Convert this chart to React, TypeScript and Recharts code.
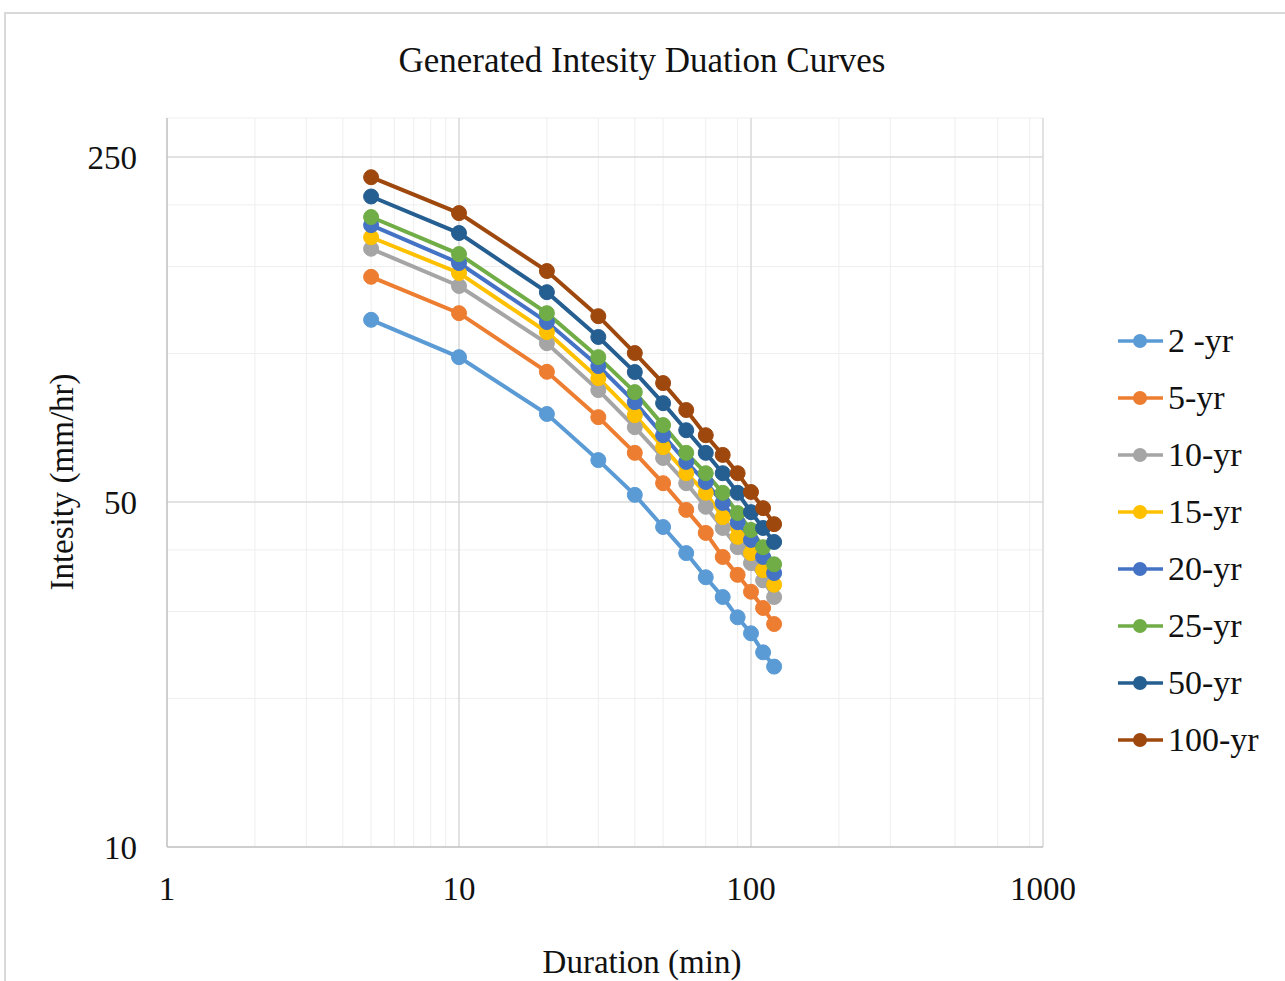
import React from 'react';
import { LineChart, Line, XAxis, YAxis, CartesianGrid } from 'recharts';

const durations = [5, 10, 20, 30, 40, 50, 60, 70, 80, 90, 100, 110, 120];

const seriesNames = ['2 -yr', '5-yr', '10-yr', '15-yr', '20-yr', '25-yr', '50-yr', '100-yr'];
const seriesKeys = ['y2', 'y5', 'y10', 'y15', 'y20', 'y25', 'y50', 'y100'];
const seriesColors = ['#5B9BD5', '#ED7D31', '#A5A5A5', '#FFC000', '#4472C4', '#70AD47', '#255E91', '#9E480E'];

const yr2 = [117, 98.3, 75.4, 60.8, 51.7, 44.5, 39.4, 35.2, 32.1, 29.2, 27.1, 24.8, 23.2];
const yr5 = [143, 120.7, 91.8, 74.3, 62.9, 54.6, 48.2, 43.3, 38.7, 35.6, 32.9, 30.5, 28.3];
const yr10 = [163, 137, 104.9, 84.3, 70.9, 61.4, 54.6, 48.9, 44.3, 40.5, 37.6, 34.7, 32.1];
const yr15 = [172, 145.6, 110.5, 89.1, 75.0, 64.6, 57.2, 52.2, 46.6, 42.5, 39.4, 36.4, 34.0];
const yr20 = [182, 152.5, 115.8, 94.3, 79.7, 68.3, 60.3, 54.9, 49.8, 45.5, 41.9, 38.7, 35.9];
const yr25 = [189, 159, 120.7, 98.3, 83.5, 71.6, 62.9, 57.2, 52.2, 47.5, 43.9, 40.5, 37.4];
const yr50 = [208, 175.4, 133.1, 108, 91.7, 79.3, 69.9, 62.9, 57.2, 52.2, 47.7, 44.3, 41.5];
const yr100 = [227.6, 192.5, 146.9, 119, 100.2, 87.1, 76.8, 68.3, 62.3, 57.2, 52.4, 48.6, 45.1];

const seriesValues = [yr2, yr5, yr10, yr15, yr20, yr25, yr50, yr100];

const xTicks = [1, 10, 100, 1000];
const yTicks = [10, 50, 250];
const xMinorGrid = [2, 3, 4, 5, 6, 7, 8, 9, 20, 30, 40, 50, 60, 70, 80, 90, 200, 300, 400, 500, 600, 700, 800, 900];
const yMinorGrid = [20, 30, 40, 100, 150, 200, 300];
const xMajorGrid = [10, 100, 1000];
const yMajorGrid = [50, 250];

const chartTitle = 'Generated Intesity Duation Curves';
const xTitle = 'Duration (min)';
const yTitle = 'Intesity (mm/hr)';

const data = durations.map((d, i) => {
  const row: Record<string, number> = { d };
  seriesKeys.forEach((k, s) => {
    row[k] = seriesValues[s][i];
  });
  return row;
});

const FONT = '"Liberation Serif", "Times New Roman", serif';
const TEXT = '#111111';

export default function App() {
  return (
    <div
      style={{
        position: 'absolute',
        left: 0,
        top: 0,
        width: 1285,
        height: 981,
        background: '#ffffff',
        overflow: 'hidden',
        fontFamily: FONT,
      }}
    >
      <div
        style={{
          position: 'absolute',
          left: 4,
          top: 12,
          width: 1290,
          height: 990,
          borderLeft: '2px solid #D9D9D9',
          borderTop: '2px solid #D9D9D9',
        }}
      />
      <div style={{ position: 'absolute', left: 0, top: 0 }}>
        <LineChart
          width={1285}
          height={981}
          data={data}
          margin={{ top: 118, right: 242, bottom: 74, left: 67 }}
        >
          <CartesianGrid
            stroke="#EEEEEE"
            strokeWidth={1}
            horizontalValues={yMinorGrid}
            verticalValues={xMinorGrid}
          />
          <CartesianGrid
            stroke="#D9D9D9"
            strokeWidth={1.5}
            horizontalValues={yMajorGrid}
            verticalValues={xMajorGrid}
          />
          <XAxis
            dataKey="d"
            type="number"
            scale="log"
            domain={[1, 1000]}
            ticks={xTicks}
            allowDataOverflow
            height={60}
            tickLine={false}
            tickSize={0}
            tickMargin={30}
            axisLine={{ stroke: '#BFBFBF', strokeWidth: 1.5 }}
            tick={{ fill: TEXT, fontSize: 33, fontFamily: FONT }}
          />
          <YAxis
            type="number"
            scale="log"
            domain={[10, 300]}
            ticks={yTicks}
            allowDataOverflow
            width={100}
            tickLine={false}
            tickSize={0}
            tickMargin={30}
            axisLine={{ stroke: '#BFBFBF', strokeWidth: 1.5 }}
            tick={{ fill: TEXT, fontSize: 33, fontFamily: FONT }}
          />
          {seriesKeys.map((k, s) => (
            <Line
              key={k}
              dataKey={k}
              name={seriesNames[s]}
              type="linear"
              stroke={seriesColors[s]}
              strokeWidth={4}
              dot={{ r: 7.5, fill: seriesColors[s], stroke: seriesColors[s], strokeWidth: 1 }}
              isAnimationActive={false}
            />
          ))}
        </LineChart>
      </div>
      <svg
        width={1285}
        height={981}
        style={{ position: 'absolute', left: 0, top: 0, pointerEvents: 'none' }}
      >
        <text x={642} y={72} textAnchor="middle" fontSize={35} fontFamily={FONT} fill={TEXT}>
          {chartTitle}
        </text>
        <text x={642} y={973} textAnchor="middle" fontSize={33} fontFamily={FONT} fill={TEXT}>
          {xTitle}
        </text>
        <text
          transform="translate(73,482) rotate(-90)"
          textAnchor="middle"
          fontSize={33}
          fontFamily={FONT}
          fill={TEXT}
        >
          {yTitle}
        </text>
      </svg>
      <div style={{ position: 'absolute', left: 1114, top: 312.5 }}>
        {seriesNames.map((name, s) => (
          <div key={name} style={{ height: 57, display: 'flex', alignItems: 'center' }}>
            <svg width={52} height={20} style={{ display: 'block' }}>
              <line x1={4} y1={10} x2={49} y2={10} stroke={seriesColors[s]} strokeWidth={3.5} />
              <circle cx={26} cy={10} r={7} fill={seriesColors[s]} />
            </svg>
            <span style={{ fontSize: 34, fontFamily: FONT, color: TEXT, lineHeight: '34px', marginLeft: 2 }}>
              {name}
            </span>
          </div>
        ))}
      </div>
    </div>
  );
}
